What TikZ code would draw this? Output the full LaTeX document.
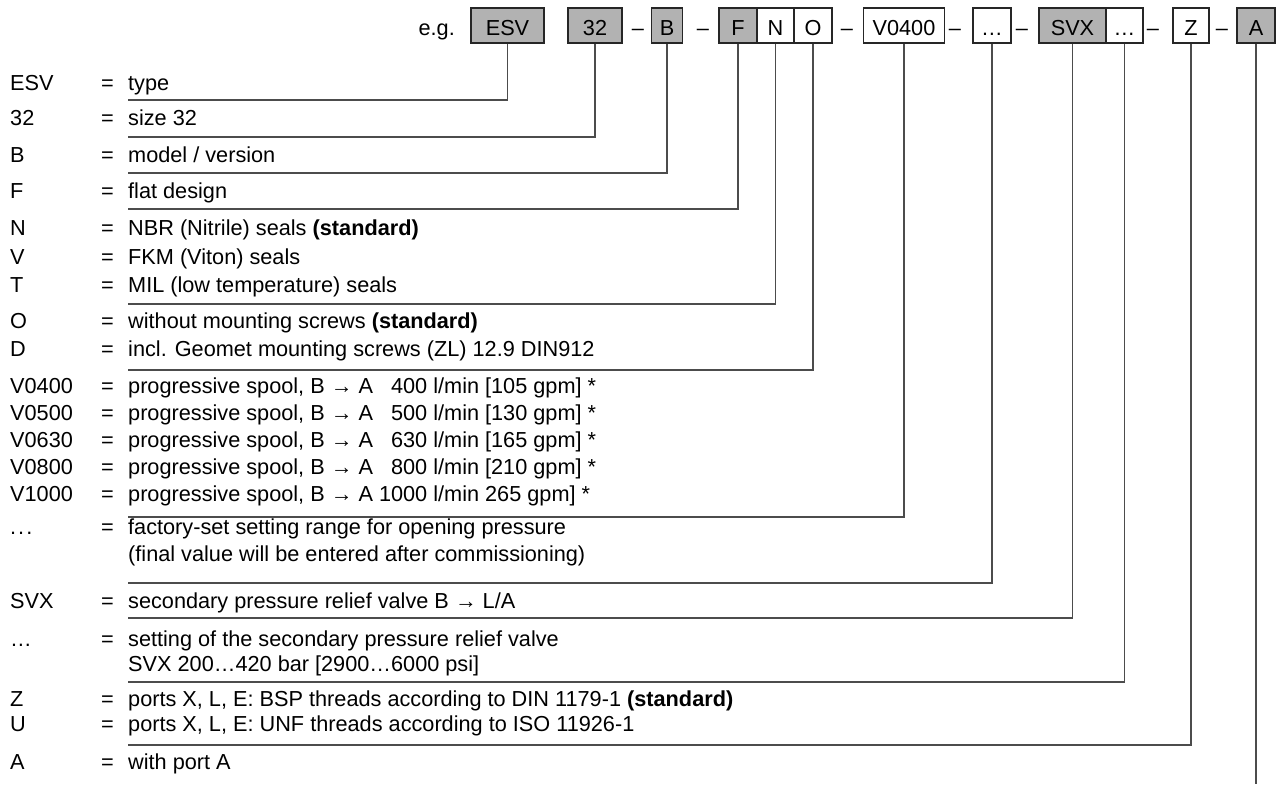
\documentclass[tikz,border=0pt]{standalone}
\usepackage{fontspec}
\setmainfont{Liberation Sans}
\tikzset{%
	code box/.style={
		rectangle,
		draw=black!85,
		line width=1.1pt,
		fill=white,
		minimum height=35pt,
		inner sep=0pt,
		text height=19pt,
		text depth=0pt
	},
	code box grey/.style={
		code box,
		fill=black!30
	},
	row text/.style={
		anchor=west,
		inner sep=0pt,
		text height=15.5pt,
		text depth=0pt
	},
	code line/.style={
		draw=black!70,
		line width=1.1pt
	},
}

\begin{document}
\begin{tikzpicture}[x=1pt,y=-1pt,font=\fontsize{21.7}{26}\selectfont]
		\useasboundingbox (0,0) rectangle (1280,785);
		% Ordering code
		\node[anchor=base east,inner sep=0pt] (eg) at (455,35) {e.g.};
		\node[code box grey, minimum width=73pt] (esv) at (507.5,25.5) {ESV};
		\node[code box grey, minimum width=54pt] (size) at (595,25.5) {32};
		\node[code box grey, minimum width=31pt] (model) at (667,25.5) {B};
		\node[code box grey, minimum width=38pt] (design) at (738,25.5) {F};
		\node[code box, minimum width=37pt] (seal) at (775.5,25.5) {N};
		\node[code box, minimum width=38pt] (screw) at (813,25.5) {O};
		\node[code box, minimum width=81pt] (spool) at (904,25.5) {V0400};
		\node[code box, minimum width=38pt] (range) at (992,25.5) {…};
		\node[code box grey, minimum width=67pt] (svx) at (1072.5,25.5) {SVX};
		\node[code box, minimum width=37pt] (svxset) at (1124.5,25.5) {…};
		\node[code box, minimum width=36pt] (thread) at (1191,25.5) {Z};
		\node[code box grey, minimum width=38pt] (port) at (1256,25.5) {A};
		\foreach \x [count=\i] in {638,703,847,955,1022,1153,1222}
		\node[anchor=base,inner sep=0pt] (dash-\i) at (\x,35) {–};
		
		% Keys
		\foreach \y/\k [count=\i] in {83/ESV,118/32,155/B,191/F,228/N,257/V,285/T,321/O,349/D,
			386/V0400,413/V0500,440/V0630,467/V0800,494/V1000,601/SVX,639/…,699/Z,724/U,762/A}
		\node[row text] (key-\i) at (10,\y) {\k};
		\node[row text] (key-dots) at (10,527) {.\kern2pt.\kern2pt.};
		\foreach \y [count=\i] in {83,118,155,191,228,257,285,321,349,386,413,440,467,494,527,601,639,699,724,762}
		\node[row text] (eq-\i) at (101,\y) {=};
		
		% Meanings
		\foreach \y/\d [count=\i] in {
			83/{type},
			118/{size 32},
			155/{model / version},
			191/{flat design},
			228/{NBR (Nitrile) seals \textbf{(standard)}},
			257/{FKM (Viton) seals},
			285/{MIL (low temperature) seals},
			321/{without mounting screws \textbf{(standard)}},
			349/{incl. Geomet mounting screws (ZL) 12.9 DIN912},
			386/{progressive spool, B → A \phantom{1}400 l/min [105 gpm] *},
			413/{progressive spool, B → A \phantom{1}500 l/min [130 gpm] *},
			440/{progressive spool, B → A \phantom{1}630 l/min [165 gpm] *},
			467/{progressive spool, B → A \phantom{1}800 l/min [210 gpm] *},
			494/{progressive spool, B → A 1000 l/min 265 gpm] *},
			527/{factory-set setting range for opening pressure},
			554/{(final value will be entered after commissioning)},
			601/{secondary pressure relief valve B → L/A},
			639/{setting of the secondary pressure relief valve},
			664/{SVX 200…420 bar [2900…6000 psi]},
			699/{ports X, L, E: BSP threads according to DIN 1179-1 \textbf{(standard)}},
			724/{ports X, L, E: UNF threads according to ISO 11926-1},
			762/{with port A}}
		\node[row text] (text-\i) at (128,\y) {\d};
		
		%Edges
		\foreach \b/\y in {esv/100,size/137,model/173,design/209,seal/304,screw/370,
			spool/517,range/583,svx/618,svxset/682,thread/745}
		{
			\coordinate (end-\b) at (128,\y);
			\draw[code line] (\b.south) |- (end-\b);
		}
		\coordinate (end-port) at (1256,784);
		\draw[code line] (port.south) -- (end-port);
\end{tikzpicture}
\end{document}
